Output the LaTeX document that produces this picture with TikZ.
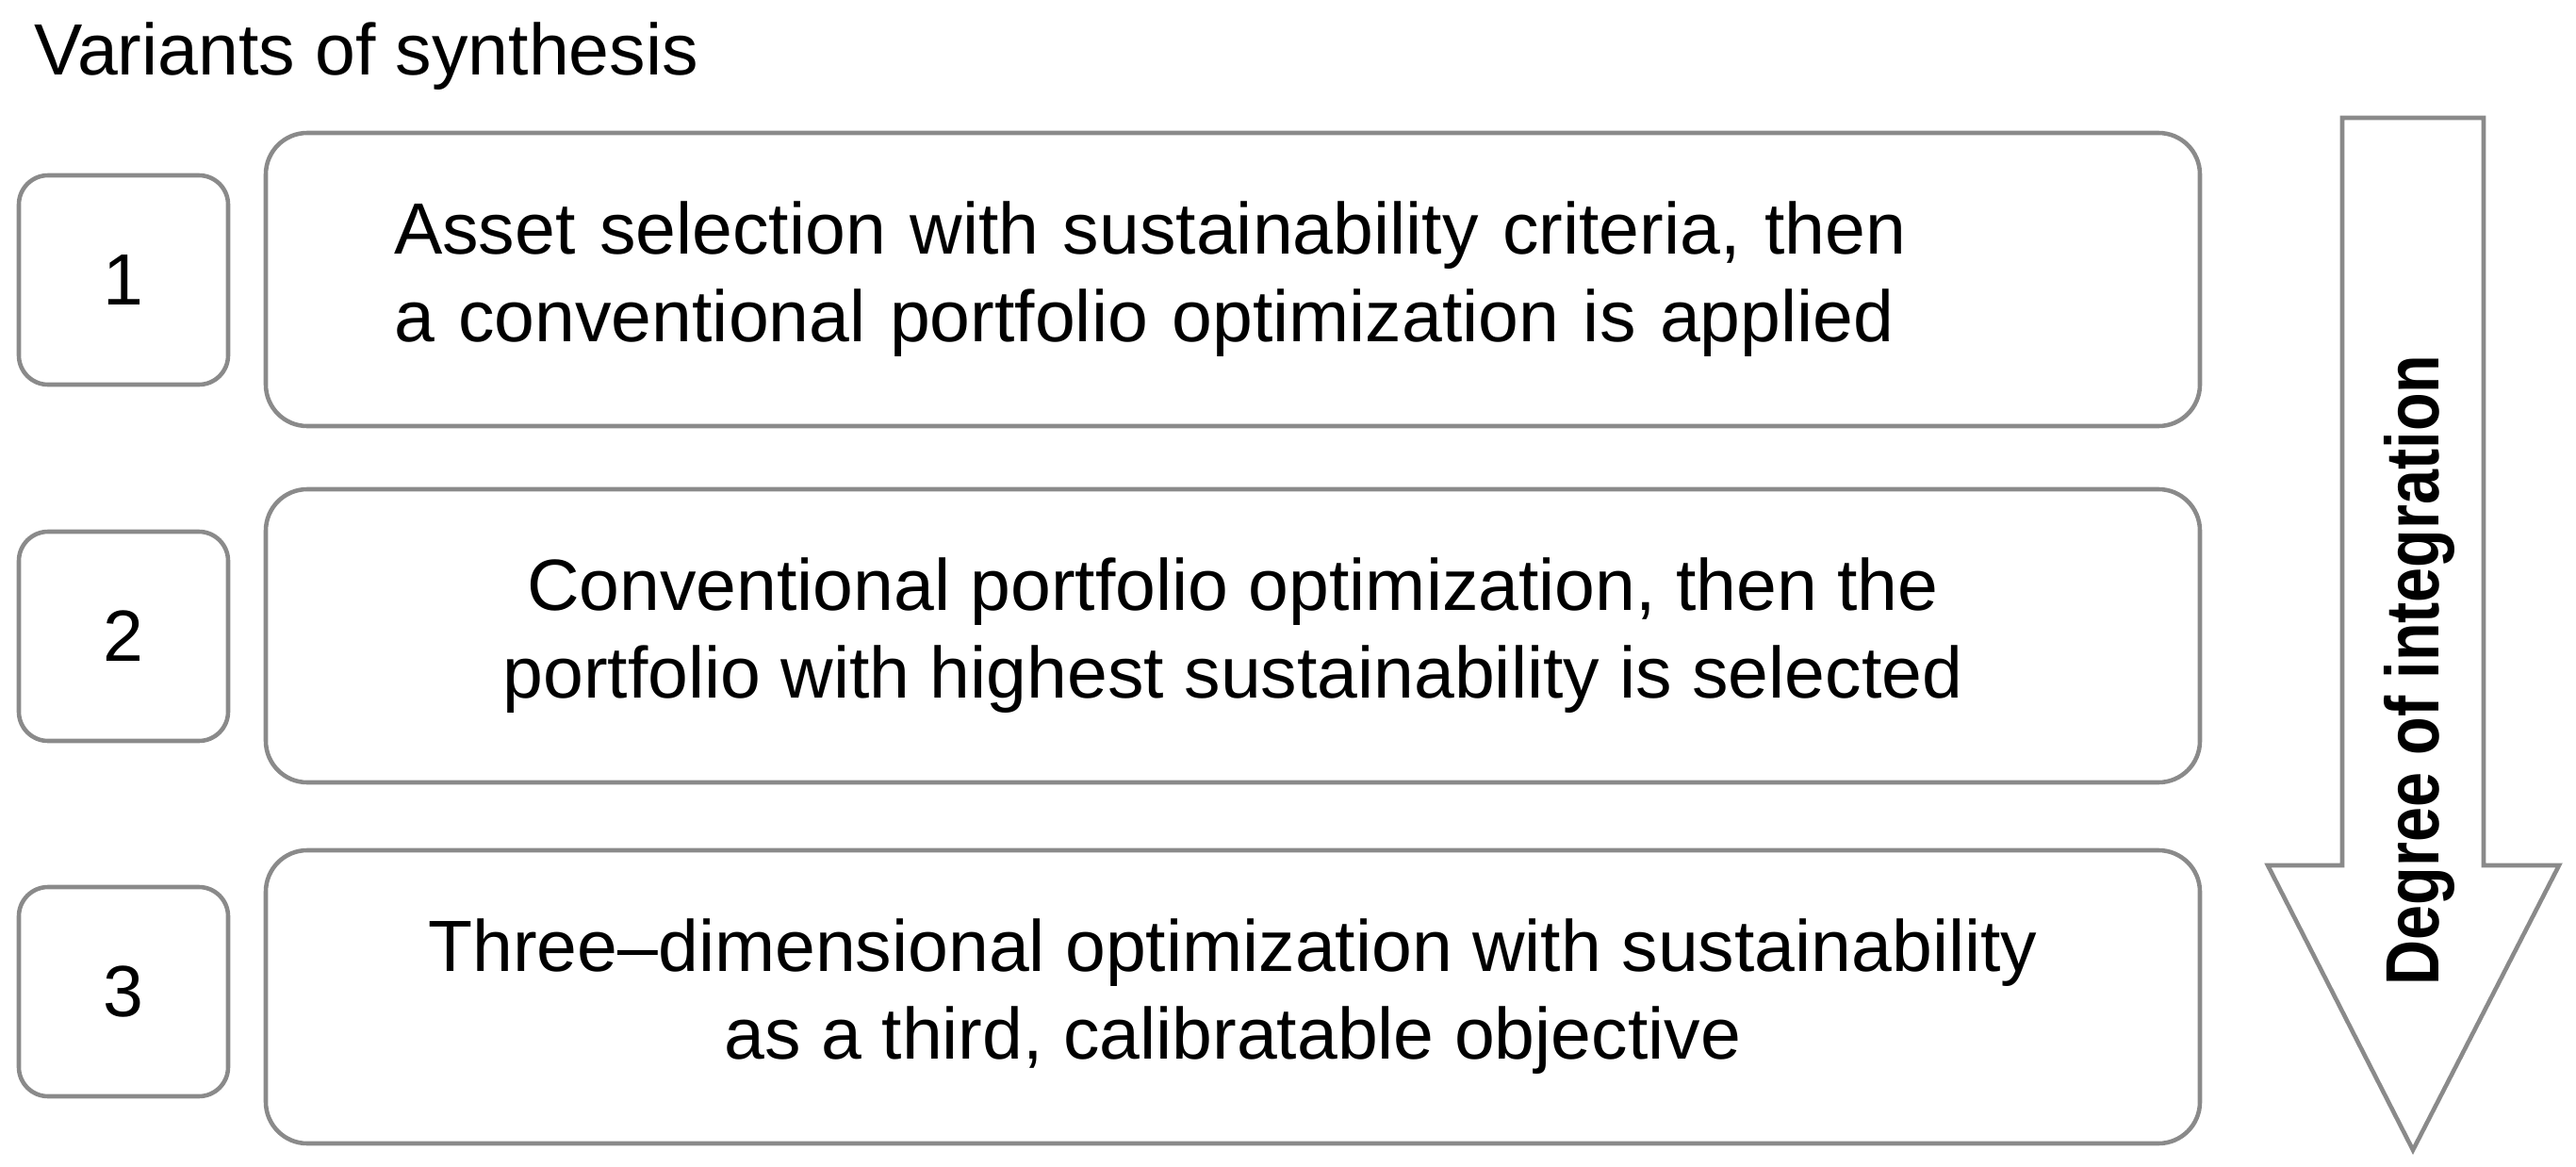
\documentclass[tikz,border=0pt]{standalone}
\usepackage{fontspec}
\setmainfont{Liberation Sans}
\usepackage{tikz}
\definecolor{boxgray}{RGB}{138,138,138}
\newcommand{\bodyfont}{\fontsize{21.9}{26.5}\selectfont}
\newcommand{\labelfont}{\fontsize{22.8}{27}\selectfont\bfseries}

\tikzset{
  numbox/.style={draw=boxgray, line width=1.3pt, rounded corners=0.31cm,
    minimum width=2.22cm, minimum height=2.22cm, font=\bodyfont},
  variant/.style={draw=boxgray, line width=1.3pt, rounded corners=0.44cm,
    minimum width=20.52cm, minimum height=3.11cm, align=center, font=\bodyfont},
  bigarrow/.style={draw=boxgray, line width=1.3pt, fill=white}
}

\begin{document}
\begin{tikzpicture}
     \useasboundingbox (0,0) rectangle (27.33,12.37);
     \node [anchor=base west, font=\bodyfont] (title) at (0.24, 11.57) {Variants of synthesis};
     % number boxes
     \node [numbox] (N1) at (1.31, 9.40) {1};
     \node [numbox] (N2) at (1.31, 5.62) {2};
     \node [numbox] (N3) at (1.31, 1.85) {3};
     % variant boxes
     \node [variant, align=left, text width=17.8cm] (V1) at (13.08, 9.405)
       {Asset selection with sustainability criteria, then\\
        a conventional portfolio optimization is applied};
     \node [variant] (V2) at (13.08, 5.625)
       {Conventional portfolio optimization, then the\\
        portfolio with highest sustainability is selected};
     \node [variant] (V3) at (13.08, 1.795)
       {Three--dimensional optimization with sustainability\\
        as a third, calibratable objective};
     % degree of integration
     \draw [bigarrow] (24.85, 11.12) -- (26.35, 11.12) -- (26.35, 3.19) -- (27.15, 3.19)
       -- (25.60, 0.17) -- (24.06, 3.19) -- (24.85, 3.19) -- cycle;
     \node [rotate=90, anchor=base, font=\labelfont] (degree) at (25.87, 5.26)
       {\scalebox{0.83}[1]{Degree of integration}};
\end{tikzpicture}
\end{document}
